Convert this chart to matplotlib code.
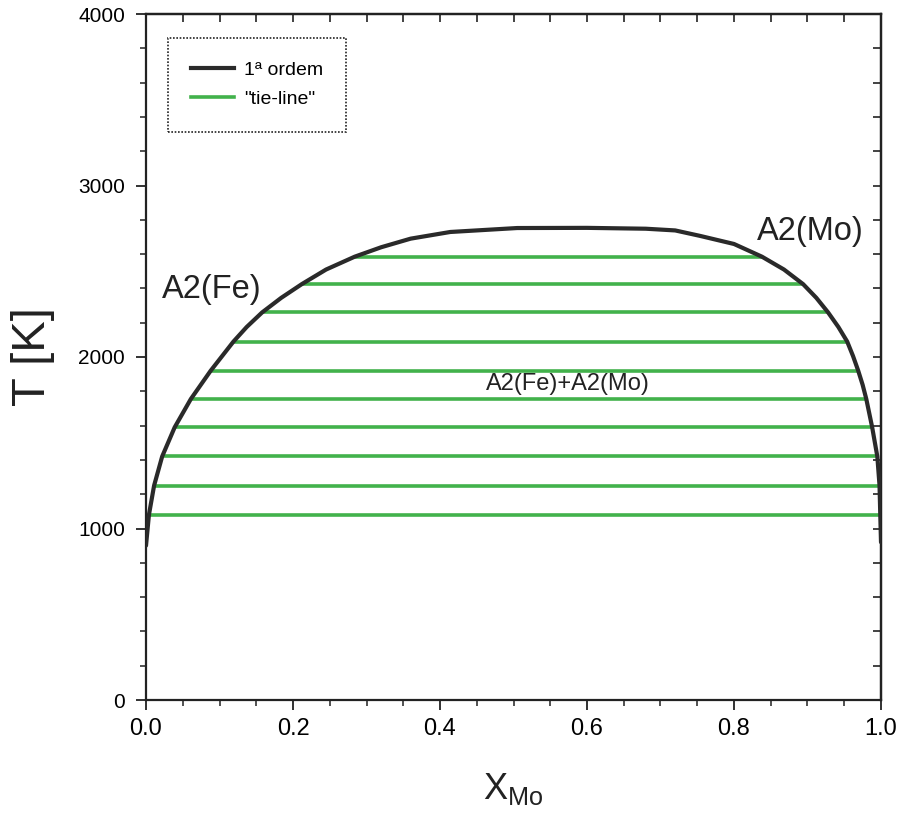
import matplotlib
matplotlib.use("Agg")
import matplotlib.pyplot as plt
from matplotlib import font_manager
from matplotlib.ticker import MultipleLocator

# ---------------- data ----------------
tie_T = [1080, 1250, 1420, 1590, 1755, 1920, 2090, 2260, 2425, 2585]
tie_left = [0.004, 0.011, 0.022, 0.039, 0.061, 0.088, 0.119, 0.158, 0.212, 0.284]
tie_right = [0.999, 0.998, 0.995, 0.988, 0.980, 0.969, 0.954, 0.928, 0.894, 0.838]

curve_x = [0.0, 0.004, 0.011, 0.022, 0.039, 0.061, 0.088, 0.119, 0.137, 0.158,
           0.184, 0.212, 0.245, 0.284, 0.32, 0.36, 0.414, 0.505, 0.60, 0.68,
           0.72, 0.754, 0.80, 0.838, 0.868, 0.894, 0.912, 0.928, 0.942, 0.954,
           0.962, 0.969, 0.975, 0.980, 0.988, 0.995, 0.998, 0.999, 1.0]
curve_T = [900, 1080, 1250, 1420, 1590, 1755, 1920, 2090, 2175, 2260,
           2345, 2425, 2510, 2585, 2640, 2690, 2729, 2752, 2753, 2748,
           2738, 2706, 2659, 2585, 2510, 2425, 2345, 2260, 2175, 2090,
           2005, 1920, 1838, 1755, 1590, 1420, 1250, 1080, 920]

x_ticks = [0.0, 0.2, 0.4, 0.6, 0.8, 1.0]
x_ticklabels = ["0.0", "0.2", "0.4", "0.6", "0.8", "1.0"]
y_ticks = [0, 1000, 2000, 3000, 4000]
y_ticklabels = ["0", "1000", "2000", "3000", "4000"]

legend_labels = ["1ª ordem", '"tie-line"']
region_labels = ["A2(Fe)", "A2(Mo)", "A2(Fe)+A2(Mo)"]
# --------------------------------------

names = {f.name for f in font_manager.fontManager.ttflist}
BASE = "Liberation Sans" if "Liberation Sans" in names else "DejaVu Sans"
NARROW = "Liberation Sans Narrow" if "Liberation Sans Narrow" in names else BASE

plt.rcParams['font.family'] = [BASE, 'DejaVu Sans']
plt.rcParams['mathtext.fontset'] = 'custom'
plt.rcParams['mathtext.rm'] = BASE

fig = plt.figure(figsize=(9.03, 8.16), dpi=100)
ax = fig.add_axes([146/903, 1-700/816, 735/903, 686/816])

GREEN = '#42b24b'
DARK = '#2a2a2a'

for T, xl, xr in zip(tie_T, tie_left, tie_right):
    ax.plot([xl, xr], [T, T], color=GREEN, lw=2.6, solid_capstyle='butt', zorder=2)
ax.plot(curve_x, curve_T, color=DARK, lw=3.0, zorder=3,
        solid_joinstyle='round', solid_capstyle='round')

# legend proxies
h1, = ax.plot([], [], color=DARK, lw=3.0)
h2, = ax.plot([], [], color=GREEN, lw=2.6)
leg = ax.legend([h1, h2], legend_labels, loc='upper left',
                bbox_to_anchor=(0.030, 0.965), borderaxespad=0,
                fontsize=14, handlelength=2.2, handletextpad=0.5,
                labelspacing=0.6, borderpad=1.2, fancybox=False,
                framealpha=1, edgecolor='#222222')
leg.get_frame().set_linestyle((0, (1, 1)))
leg.get_frame().set_linewidth(1.2)

ax.text(0.022, 2391, region_labels[0], fontsize=23.5, va='center', ha='left', color='#222222')
ax.text(0.831, 2729, region_labels[1], fontsize=23.5, va='center', ha='left', color='#222222')
ax.text(0.574, 1843, region_labels[2], fontsize=17, va='center', ha='center', color='#222222')

ax.set_xlim(0, 1.0)
ax.set_ylim(0, 4000)
ax.set_xticks(x_ticks)
ax.set_xticklabels(x_ticklabels, fontsize=17)
ax.set_yticks(y_ticks)
ax.set_yticklabels(y_ticklabels, fontsize=15)
ax.xaxis.set_minor_locator(MultipleLocator(0.05))
ax.yaxis.set_minor_locator(MultipleLocator(200))

ax.tick_params(which='major', direction='out', length=7, width=1.3, color='#222222')
ax.tick_params(which='minor', direction='out', length=4.5, width=1.1, color='#222222')
ax.tick_params(axis='x', which='major', pad=6)
ax.tick_params(axis='y', which='major', pad=8)

for s in ax.spines.values():
    s.set_linewidth(1.6)
    s.set_color('#222222')

top = ax.secondary_xaxis('top')
top.set_xticks(x_ticks)
top.xaxis.set_minor_locator(MultipleLocator(0.05))
top.tick_params(which='both', direction='in', length=6, width=1.2, labeltop=False, color='#222222')
top.spines['top'].set_linewidth(1.6)
right = ax.secondary_yaxis('right')
right.set_yticks(y_ticks)
right.yaxis.set_minor_locator(MultipleLocator(200))
right.tick_params(which='both', direction='in', length=6, width=1.2, labelright=False, color='#222222')
right.spines['right'].set_linewidth(1.6)

ax.set_xlabel(r'$\mathregular{X_{Mo}}$', fontsize=26, color='#222222')
ax.xaxis.set_label_coords(0.5, -0.103)
ax.set_ylabel('T [K]', fontsize=34, family=[NARROW, 'DejaVu Sans'], color='#222222')
ax.yaxis.set_label_coords(-0.124, 0.5)

fig.savefig('out.png', dpi=100)
